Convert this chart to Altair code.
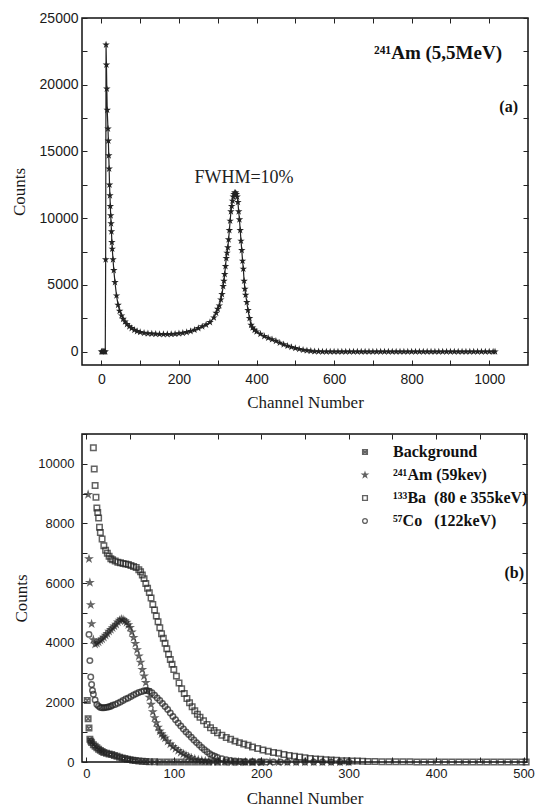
import altair as alt
import pandas as pd

# ---------------- panel (a): 241Am alpha spectrum ----------------
ch_a = [0, 2, 4, 6, 8, 10, 11, 12, 13, 14, 15, 17, 18, 19, 20, 21, 22, 23, 24, 25,
        26, 27, 28, 30, 32, 35, 39, 43, 47, 52, 56, 61, 66, 72, 78, 85, 92, 100, 110, 120,
        130, 140, 150, 160, 170, 180, 190, 200, 210, 220, 230, 240, 250, 260, 270, 280, 290, 296, 300, 304,
        308, 311, 314, 316, 318, 320, 322, 324, 326, 328, 330, 332, 334, 336, 338, 340, 342, 344, 346, 348,
        350, 352, 354, 356, 358, 360, 362, 364, 366, 368, 370, 372, 375, 378, 382, 386, 390, 395, 400, 410,
        420, 430, 440, 450, 460, 470, 480, 490, 500, 510, 520, 530, 540, 550, 560, 570, 580, 590, 600, 610,
        620, 630, 640, 650, 660, 670, 680, 690, 700, 710, 720, 730, 740, 750, 760, 770, 780, 790, 800, 810,
        820, 830, 840, 850, 860, 870, 880, 890, 900, 910, 920, 930, 940, 950, 960, 970, 980, 990, 1000, 1010,
        1015]
counts_a = [0, 0, 0, 0, 0, 0, 6900, 23000, 21500, 19700, 18100, 16700, 15800, 14700, 13700, 12500, 11700, 10900, 10200, 9600,
            9000, 8200, 7700, 6900, 6100, 5200, 4200, 3500, 3050, 2700, 2450, 2250, 2050, 1880, 1750, 1620, 1530, 1460, 1400, 1360,
            1340, 1320, 1310, 1300, 1300, 1310, 1330, 1360, 1400, 1450, 1530, 1630, 1750, 1880, 2020, 2200, 2550, 2900, 3200, 3450,
            3900, 4300, 4900, 5300, 5800, 6400, 7000, 7400, 7800, 8400, 9100, 9800, 10500, 10900, 11300, 11600, 11800, 11900, 11900, 11800,
            11600, 11200, 10500, 9900, 9100, 8300, 7600, 6800, 6200, 5300, 4700, 4250, 3700, 3100, 2500, 2000, 1800, 1620, 1500, 1320,
            1150, 1030, 920, 800, 660, 540, 430, 340, 260, 190, 130, 80, 45, 20, 10, 0, 0, 0, 0, 0,
            0, 0, 0, 0, 0, 0, 0, 0, 0, 0, 0, 0, 0, 0, 0, 0, 0, 0, 0, 0,
            0, 0, 0, 0, 0, 0, 0, 0, 0, 0, 0, 0, 0, 0, 0, 0, 0, 0, 0, 0,
            0]

# ---------------- panel (b): gamma spectra ----------------
series_names = ["\u00a0\u00a0Background", "²⁴¹Am (59kev)", "¹³³Ba\u00a0\u00a0(80 e 355keV)", "⁵⁷Co\u00a0\u00a0\u00a0(122keV)"]

ch_bg = [1, 2, 3, 4, 5, 6, 8, 10, 12, 14, 16, 18, 20, 23, 26, 29, 32, 35, 38, 41,
         44, 47, 50, 53, 56, 60, 64, 68, 72, 78, 84, 92, 100, 108, 116, 124, 132, 140, 150, 160,
         170, 180, 190, 200]
counts_bg = [2060, 1450, 1140, 760, 700, 650, 580, 530, 480, 430, 390, 350, 320, 290, 270, 250, 220, 190, 160, 135,
             115, 95, 80, 60, 50, 35, 25, 15, 10, 5, 0, 0, 0, 0, 0, 0, 0, 0, 0, 0,
             0, 0, 0, 0]

ch_am = [2, 3, 4, 5, 6, 8, 10, 12, 14, 16, 18, 20, 22, 24, 26, 28, 30, 32, 34, 36,
         38, 40, 42, 44, 46, 48, 50, 52, 54, 56, 58, 60, 62, 64, 66, 68, 70, 72, 74, 76,
         78, 80, 82, 84, 86, 88, 90, 93, 96, 99, 102, 105, 108, 111, 114, 117, 120, 124, 128, 132,
         136, 140, 145, 150, 158, 166, 174, 182, 190, 200, 210, 220, 230, 240, 250, 260, 270, 280, 290, 300]
counts_am = [8970, 6810, 6020, 5270, 4630, 4100, 3950, 3980, 4020, 4080, 4120, 4180, 4250, 4310, 4380, 4440, 4500, 4560, 4620, 4690,
             4750, 4790, 4770, 4730, 4680, 4600, 4510, 4360, 4170, 3970, 3760, 3550, 3340, 3100, 2880, 2660, 2420, 2170, 1930, 1680,
             1480, 1310, 1160, 1040, 940, 860, 800, 690, 600, 520, 450, 380, 320, 270, 220, 180, 140, 100, 70, 50,
             35, 25, 15, 10, 5, 0, 0, 0, 0, 0, 0, 0, 0, 0, 0, 0, 0, 0, 0, 0]

ch_ba = [8, 9, 10, 11, 12, 13, 14, 15, 16, 18, 20, 22, 24, 26, 28, 30, 33, 36, 39, 42,
         45, 48, 51, 54, 57, 60, 62, 64, 66, 68, 70, 72, 74, 76, 78, 80, 82, 84, 86, 88,
         90, 92, 94, 96, 98, 100, 103, 106, 109, 112, 115, 118, 121, 124, 127, 130, 134, 138, 142, 146,
         150, 155, 160, 165, 170, 175, 180, 185, 190, 196, 202, 208, 214, 220, 226, 232, 238, 244, 250, 256,
         262, 268, 274, 280, 286, 292, 298, 304, 310, 316, 322, 330, 338, 346, 354, 362, 370, 378, 386, 394,
         402, 410, 418, 426, 434, 442, 450, 458, 466, 474, 482, 490, 498, 503]
counts_ba = [10540, 9830, 9270, 8880, 8520, 8370, 8180, 7870, 7700, 7480, 7250, 7100, 7000, 6900, 6820, 6780, 6740, 6700, 6680, 6660,
             6640, 6620, 6590, 6560, 6520, 6450, 6380, 6270, 6150, 5990, 5830, 5680, 5500, 5280, 5100, 4900, 4700, 4500, 4300, 4150,
             3980, 3800, 3610, 3440, 3280, 3100, 2880, 2650, 2460, 2300, 2130, 1990, 1850, 1720, 1600, 1500, 1380, 1260, 1150, 1060,
             980, 900, 820, 760, 700, 650, 600, 560, 500, 450, 400, 360, 320, 290, 250, 220, 190, 165, 140, 120,
             105, 90, 75, 65, 55, 45, 40, 35, 30, 25, 20, 15, 12, 10, 8, 5, 5, 0, 0, 0,
             0, 0, 0, 0, 0, 0, 0, 0, 0, 0, 0, 0, 0, 0]

ch_co = [3, 4, 5, 6, 7, 8, 10, 12, 14, 16, 18, 20, 22, 24, 26, 28, 30, 33, 36, 39,
         42, 45, 48, 51, 54, 57, 60, 63, 66, 69, 72, 75, 78, 81, 84, 87, 90, 93, 96, 99,
         102, 105, 108, 111, 114, 117, 120, 123, 126, 129, 132, 135, 138, 141, 144, 147, 150, 155, 160, 165,
         170, 176, 182, 190, 198, 206, 214, 222, 230, 240, 250, 260, 270, 280, 290, 300]
counts_co = [4280, 3400, 2850, 2600, 2400, 2270, 2080, 1930, 1870, 1830, 1820, 1820, 1830, 1840, 1850, 1870, 1900, 1930, 1970, 2010,
             2060, 2110, 2150, 2200, 2250, 2290, 2330, 2360, 2390, 2400, 2370, 2320, 2240, 2150, 2060, 1960, 1860, 1760, 1640, 1530,
             1420, 1310, 1210, 1110, 1010, 920, 830, 740, 650, 570, 490, 410, 340, 280, 230, 190, 155, 110, 75, 50,
             35, 20, 10, 5, 0, 0, 0, 0, 0, 0, 0, 0, 0, 0, 0, 0]

INK = "#222222"
SERIF = "Liberation Serif"
SANS = "Liberation Sans"
STAR = "M0,-1L0.2245,-0.309L0.951,-0.309L0.363,0.118L0.588,0.809L0,0.382L-0.588,0.809L-0.363,0.118L-0.951,-0.309L-0.2245,-0.309Z"
XBOX = "M-1,-1H1V1H-1Z M-1,-1L1,1 M1,-1L-1,1"

df_a = pd.DataFrame({"ch": ch_a, "counts": counts_a})

parts = []
for name, cx, cy in [(series_names[0], ch_bg, counts_bg), (series_names[1], ch_am, counts_am),
                     (series_names[2], ch_ba, counts_ba), (series_names[3], ch_co, counts_co)]:
    parts.append(pd.DataFrame({"ch": cx, "counts": cy, "series": name}))
df_b = pd.concat(parts, ignore_index=True)

T = 5  # inward tick length


def ax(values, every, title, fsize, lpad, tpad):
    return alt.Axis(values=values, tickSize=T, offset=-T, domain=False, tickColor=INK, tickWidth=1,
                    labelFont=SANS, labelFontSize=fsize, labelColor="#1a1a1a", labelPadding=lpad,
                    labelExpr=f"datum.value % {every} === 0 ? datum.label : ''", labelOverlap=False,
                    format="d", title=title, titleFont=SERIF, titleFontWeight="normal", titleFontSize=17,
                    titleColor="#1a1a1a", titlePadding=tpad, grid=False)


def mirror_ax(values, orient):
    return alt.Axis(values=values, orient=orient, tickSize=T, offset=-T, domain=False, labels=False,
                    tickColor=INK, tickWidth=1, title=None, grid=False)


# ---- panel (a)
xs_a = alt.Scale(domain=[-50, 1100], nice=False, zero=False)
ys_a = alt.Scale(domain=[-1000, 25000], nice=False, zero=False)
xv_a = list(range(0, 1001, 100))
yv_a = list(range(0, 25001, 2500))

main_a = alt.Chart(df_a).mark_line(
    color=INK, strokeWidth=1.2,
    point=alt.OverlayMarkDef(shape=STAR, size=62, filled=True, color=INK)
).encode(
    x=alt.X("ch:Q", scale=xs_a, axis=ax(xv_a, 200, "Channel Number", 14, 7, 8)),
    y=alt.Y("counts:Q", scale=ys_a, axis=ax(yv_a, 5000, "Counts", 14, 4, 11)),
)
mirror_a = alt.Chart(df_a).mark_point(opacity=0).encode(
    x=alt.X("ch:Q", scale=xs_a, axis=mirror_ax(xv_a, "top")),
    y=alt.Y("counts:Q", scale=ys_a, axis=mirror_ax(yv_a, "right")),
)
lab_am = alt.Chart(pd.DataFrame({"t": ["²⁴¹Am (5,5MeV)"]})).mark_text(
    align="right", baseline="alphabetic", font=SERIF, fontWeight="bold", fontSize=19, color="#111"
).encode(x=alt.value(420), y=alt.value(41), text="t:N")
lab_a = alt.Chart(pd.DataFrame({"t": ["(a)"]})).mark_text(
    align="right", baseline="alphabetic", font=SERIF, fontWeight="bold", fontSize=16, color="#111"
).encode(x=alt.value(436), y=alt.value(94), text="t:N")
lab_fw = alt.Chart(pd.DataFrame({"t": ["FWHM=10%"]})).mark_text(
    align="center", baseline="alphabetic", font=SERIF, fontSize=18, color="#222"
).encode(x=alt.value(162), y=alt.value(165), text="t:N")

top = alt.layer(main_a, mirror_a, lab_am, lab_a, lab_fw).resolve_axis(
    x="independent", y="independent").properties(width=446, height=347)

# ---- panel (b)
xs_b = alt.Scale(domain=[-5, 504], nice=False, zero=False)
ys_b = alt.Scale(domain=[0, 11000], nice=False, zero=False)
xv_b = list(range(0, 501, 50))
yv_b = list(range(0, 11001, 1000))

main_b = alt.Chart(df_b).mark_point(filled=False, color=INK, strokeWidth=1.5, size=30).encode(
    x=alt.X("ch:Q", scale=xs_b, axis=ax(xv_b, 100, "Channel Number", 13, 5, 10)),
    y=alt.Y("counts:Q", scale=ys_b, axis=ax(yv_b, 2000, "Counts", 13, 8, 7)),
    shape=alt.Shape("series:N", scale=alt.Scale(domain=series_names, range=[XBOX, STAR, "square", "circle"]),
                    legend=alt.Legend(title=None, orient="none", legendX=275, legendY=10, padding=0,
                                      labelFont=SERIF, labelFontWeight="bold", labelFontSize=16,
                                      labelColor="#111", symbolSize=22, symbolStrokeWidth=1.4,
                                      symbolStrokeColor=INK, rowPadding=7, labelOffset=20,
                                      labelLimit=300)),
)
mirror_b = alt.Chart(df_b).mark_point(opacity=0).encode(
    x=alt.X("ch:Q", scale=xs_b, axis=mirror_ax(xv_b, "top")),
    y=alt.Y("counts:Q", scale=ys_b, axis=mirror_ax(yv_b, "right")),
)
lab_b = alt.Chart(pd.DataFrame({"t": ["(b)"]})).mark_text(
    align="right", baseline="alphabetic", font=SERIF, fontWeight="bold", fontSize=16, color="#111"
).encode(x=alt.value(442), y=alt.value(144), text="t:N")

bottom = alt.layer(main_b, mirror_b, lab_b).resolve_axis(
    x="independent", y="independent").properties(width=445, height=328)

chart = alt.vconcat(top, bottom, spacing=69, bounds="flush").resolve_legend(shape="independent").properties(
    padding={"left": 9, "top": 10, "right": 0, "bottom": 0},
    background="white",
).configure_view(stroke="#111", strokeWidth=1.5)

chart.save("out.html", embed_options={"renderer": "svg", "actions": False})
